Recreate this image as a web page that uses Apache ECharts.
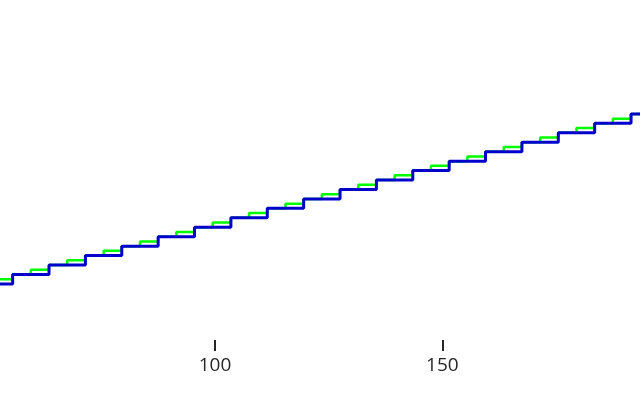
<!DOCTYPE html>
<html>
<head>
<meta charset="utf-8">
<script src="https://cdn.jsdelivr.net/npm/echarts@6/dist/echarts.min.js"></script>
<style>
html,body{margin:0;padding:0;background:#fff;}
#chart{width:640px;height:400px;}
</style>
</head>
<body>
<div id="chart"></div>
<script>
// Coarse step series (blue): step positions and levels
const blueX = [47.5, 55.5, 63.5, 71.5, 79.5, 87.5, 95.5, 103.5, 111.5, 119.5, 127.5, 135.5, 143.5, 151.5, 159.5, 167.5, 175.5, 183.5, 191.5, 199.5];
const blueY = [47.5, 55.5, 63.5, 71.5, 79.5, 87.5, 95.5, 103.5, 111.5, 119.5, 127.5, 135.5, 143.5, 151.5, 159.5, 167.5, 175.5, 183.5, 191.5, 199.5];
// Fine step series (green)
const greenX = [47.5, 51.5, 55.5, 59.5, 63.5, 67.5, 71.5, 75.5, 79.5, 83.5, 87.5, 91.5, 95.5, 99.5, 103.5, 107.5, 111.5, 115.5, 119.5, 123.5, 127.5, 131.5, 135.5, 139.5, 143.5, 147.5, 151.5, 155.5, 159.5, 163.5, 167.5, 171.5, 175.5, 179.5, 183.5, 187.5, 191.5, 195.5, 199.5];
const greenY = [47.5, 51.5, 55.5, 59.5, 63.5, 67.5, 71.5, 75.5, 79.5, 83.5, 87.5, 91.5, 95.5, 99.5, 103.5, 107.5, 111.5, 115.5, 119.5, 123.5, 127.5, 131.5, 135.5, 139.5, 143.5, 147.5, 151.5, 155.5, 159.5, 163.5, 167.5, 171.5, 175.5, 179.5, 183.5, 187.5, 191.5, 195.5, 199.5];
// Tick labels on the x axis
const xTicks = [100, 150];

const chart = echarts.init(document.getElementById('chart'), null, {renderer: 'canvas'});
chart.setOption({
  animation: false,
  backgroundColor: '#ffffff',
  grid: {left: 0, right: 0, top: 0, height: 340, containLabel: false},
  xAxis: {
    type: 'value',
    min: 52.72,
    max: 193.47,
    axisLine: {show: false},
    splitLine: {show: false},
    axisTick: {show: true, customValues: xTicks, length: 11, lineStyle: {color: '#262626', width: 2}},
    axisLabel: {show: true, customValues: xTicks, margin: 16, color: '#262626', fontSize: 19, fontFamily: 'Open Sans'}
  },
  yAxis: {
    type: 'value',
    min: 0,
    max: 288,
    show: false,
    splitLine: {show: false}
  },
  series: [
    {
      type: 'line',
      step: 'end',
      data: greenX.map((x, i) => [x, greenY[i]]),
      showSymbol: false,
      lineStyle: {color: '#00ff00', width: 2.5},
      z: 2
    },
    {
      type: 'line',
      step: 'end',
      data: blueX.map((x, i) => [x, blueY[i]]),
      showSymbol: false,
      lineStyle: {color: '#0000cd', width: 3},
      z: 3
    }
  ]
});
</script>
</body>
</html>
